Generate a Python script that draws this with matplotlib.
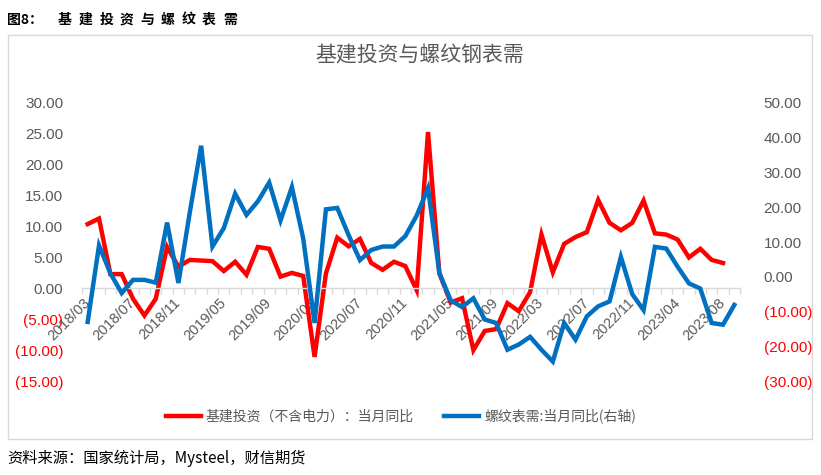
import numpy as np
import matplotlib
matplotlib.use("Agg")
import matplotlib.pyplot as plt
from matplotlib.patches import Rectangle

plt.rcParams['font.family'] = ['Liberation Sans', 'Noto Sans CJK SC', 'DejaVu Sans']
CJK = ['Noto Sans CJK SC', 'DejaVu Sans']

# 月份（1、2月合并不单列）
months = (
    [f"2018/{m:02d}" for m in range(3, 13)]
    + [f"2019/{m:02d}" for m in range(3, 13)]
    + [f"2020/{m:02d}" for m in range(3, 13)]
    + [f"2021/{m:02d}" for m in range(3, 13)]
    + [f"2022/{m:02d}" for m in range(3, 13)]
    + [f"2023/{m:02d}" for m in range(2, 10)]
)

# 基建投资（不含电力）：当月同比，左轴
infra_yoy = [
    10.4, 11.3, 2.3, 2.3, -1.7, -4.4, -1.7, 6.7, 3.5, 4.6,
    4.5, 4.4, 2.8, 4.3, 2.2, 6.7, 6.4, 1.9, 2.5, 2.0,
    -11.1, 2.4, 8.2, 6.8, 8.0, 4.1, 3.0, 4.3, 3.6, -0.3,
    25.3, 2.4, -2.3, -1.6, -10.0, -6.9, -6.6, -2.4, -3.7, -0.6,
    8.7, 2.6, 7.2, 8.3, 9.1, 14.3, 10.6, 9.4, 10.6, 14.2,
    8.9, 8.7, 7.9, 5.0, 6.4, 4.6, 4.1,
]

# 螺纹表需：当月同比，右轴
rebar_yoy = [
    -13.0, 9.0, 1.0, -4.7, -0.9, -0.9, -1.7, 15.6, -1.8, 18.5,
    37.7, 8.7, 14.0, 23.9, 17.8, 21.7, 27.1, 16.2, 25.8, 11.0,
    -13.3, 19.4, 19.8, 12.0, 4.8, 7.7, 8.7, 8.7, 11.7, 17.6,
    25.5, 1.1, -6.8, -8.7, -6.2, -12.3, -13.3, -21.0, -19.5, -17.3,
    -21.0, -24.4, -13.3, -18.1, -11.4, -8.5, -7.1, 5.7, -5.0, -9.6,
    8.6, 8.1, 2.9, -1.9, -3.4, -13.3, -13.8, -8.1,
]

left_ticks = [-15, -10, -5, 0, 5, 10, 15, 20, 25, 30]
right_ticks = [-30, -20, -10, 0, 10, 20, 30, 40, 50]

RED = "#FF0000"
BLUE = "#0070C0"
GRAY = "#595959"


def fmt(v):
    return f"({abs(v):.2f})" if v < 0 else f"{v:.2f}"


def spaced_text(fig, s, x0, y, step, **kw):
    # 逐字排，模拟字间距
    for k, ch in enumerate(s):
        fig.text((x0 + k * step) / 821, 1 - y / 475, ch, va="center", ha="left", **kw)


fig = plt.figure(figsize=(8.21, 4.75), dpi=100)
ax = fig.add_axes([82 / 821, 94 / 475, 658 / 821, 278 / 475])
ax2 = ax.twinx()

x = np.arange(len(months))
ax.plot(x[:len(infra_yoy)], infra_yoy, color=RED, lw=3.2, solid_joinstyle="miter")
ax2.plot(x[:len(rebar_yoy)], rebar_yoy, color=BLUE, lw=3.2, solid_joinstyle="miter")

ax.set_xlim(-0.5, len(months) - 0.5)
ax.set_ylim(-15, 30)
ax2.set_ylim(-30, 50)

for a in (ax, ax2):
    for s in a.spines.values():
        s.set_visible(False)
ax.spines['bottom'].set_visible(True)
ax.spines['bottom'].set_position(('data', 0))
ax.spines['bottom'].set_color("#D9D9D9")
ax.spines['bottom'].set_linewidth(1.0)

lab_idx = list(range(0, len(months), 4))
ax.set_xticks(lab_idx, [months[i] for i in lab_idx])
ax.set_xticks(np.arange(-0.5, len(months), 1), minor=True)
ax.tick_params(axis='x', which='major', length=0, pad=9, labelsize=10.5, labelcolor=GRAY)
ax.tick_params(axis='x', which='minor', length=4, color="#D9D9D9", width=1)
for t in ax.get_xticklabels():
    t.set_rotation(45)
    t.set_ha('right')
    t.set_va('center')
    t.set_rotation_mode('anchor')

ax.set_yticks(left_ticks, [fmt(v) for v in left_ticks])
ax.tick_params(axis='y', length=0, pad=13.5, labelsize=11)
for t, v in zip(ax.get_yticklabels(), left_ticks):
    t.set_color(RED if v < 0 else GRAY)

ax2.set_yticks(right_ticks, [fmt(v) for v in right_ticks])
ax2.tick_params(axis='y', length=0, pad=17, labelsize=11)
for t, v in zip(ax2.get_yticklabels(), right_ticks):
    t.set_color(RED if v < 0 else GRAY)

# 图框
fig.patches.append(Rectangle((8 / 821, 1 - 439 / 475), 804 / 821, 404 / 475,
                             transform=fig.transFigure, fill=False,
                             edgecolor="#D9D9D9", lw=1.0))

fig.text(420 / 821, 1 - 55 / 475, "基建投资与螺纹钢表需", ha="center", va="center",
         fontsize=15, color=GRAY, family=CJK)

fig.text(7 / 821, 1 - 20 / 475, "图8：", ha="left", va="center", fontsize=10,
         fontweight="bold", color="black", family=CJK)
spaced_text(fig, "基建投资与螺纹表需", 58, 20, 20.6, fontsize=10, fontweight="bold",
            color="black", family=CJK)

fig.text(7 / 821, 1 - 458 / 475, "资料来源：国家统计局，Mysteel，财信期货", ha="left",
         va="center", fontsize=11, color="black", family=CJK, style="italic")

h1, = ax.plot([], [], color=RED, lw=3.2)
h2, = ax.plot([], [], color=BLUE, lw=3.2)
fig.legend([h1, h2], ["基建投资（不含电力）：当月同比", "螺纹表需:当月同比(右轴)"],
           loc="center", bbox_to_anchor=(401 / 821, 1 - 416 / 475), ncol=2,
           frameon=False, handlelength=2.5, handletextpad=0.35, columnspacing=2.2,
           prop={'family': CJK, 'size': 10}, labelcolor=GRAY)

fig.savefig("out.png", dpi=100)
